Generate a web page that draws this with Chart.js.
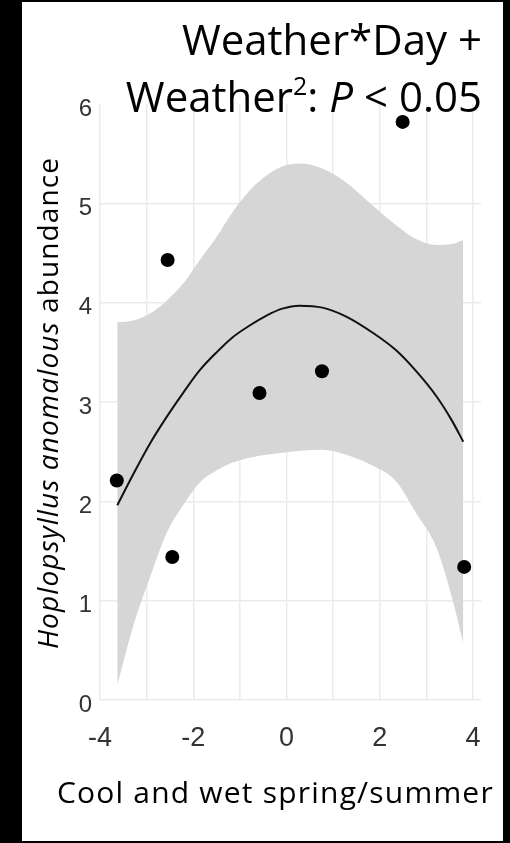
<!DOCTYPE html>
<html>
<head>
<meta charset="utf-8">
<script src="https://cdn.jsdelivr.net/npm/chart.js@4.4.1/dist/chart.umd.min.js"></script>
<style>
  body { margin: 0; background: #000; width: 510px; height: 843px; overflow: hidden; position: relative; }
  #panel { position: absolute; left: 22px; top: 2px; width: 481px; height: 839px; background: #fff; }
  #chart { position: absolute; left: 0; top: 0; }
  .txt { position: absolute; font-family: "Open Sans", sans-serif; color: #000; white-space: nowrap; line-height: 1; }
  #title1, #title2 { right: 21px; font-size: 42px; }
  #title1 { top: 16px; }
  #title2 { top: 73px; }
  #title2 sup { font-size: 25px; vertical-align: 17px; line-height: 0; }
  #ytitle { left: -275px; top: 387px; width: 600px; text-align: center; font-size: 28px; letter-spacing: 1.1px; transform: rotate(-90deg); }
  #xtitle { left: 35px; top: 775px; font-size: 30px; letter-spacing: 1.2px; }
</style>
</head>
<body>
<div id="panel">
  <canvas id="chart" width="481" height="839"></canvas>
  <div class="txt" id="title1">Weather*Day +</div>
  <div class="txt" id="title2">Weather<sup>2</sup>: <i>P</i> &lt; 0.05</div>
  <div class="txt" id="ytitle"><i>Hoplopsyllus anomalous</i> abundance</div>
  <div class="txt" id="xtitle">Cool and wet spring/summer</div>
</div>
<script>
// observed points
const pointX = [-3.64, -2.55, -2.45, -0.58, 0.76, 2.49, 3.81];
const pointY = [2.21, 4.43, 1.44, 3.09, 3.31, 5.82, 1.34];

// fitted curve and its confidence band, read along the same x positions
const fitX = [-3.63, -3.29, -2.93, -2.57, -2.22, -1.86, -1.50, -1.16, -0.79, -0.43,
              -0.09, 0.28, 0.77, 1.28, 1.84, 2.35, 2.78, 3.21, 3.55, 3.79];
const fitY = [1.96, 2.27, 2.58, 2.85, 3.09, 3.32, 3.50, 3.65, 3.77, 3.87,
              3.94, 3.97, 3.95, 3.86, 3.70, 3.52, 3.31, 3.06, 2.81, 2.60];
const upperY = [3.80, 3.82, 3.89, 4.02, 4.19, 4.43, 4.66, 4.91, 5.13, 5.28,
                5.37, 5.40, 5.35, 5.21, 4.98, 4.78, 4.64, 4.58, 4.59, 4.63];
const lowerY = [0.15, 0.74, 1.23, 1.68, 1.96, 2.19, 2.31, 2.39, 2.44, 2.47,
                2.49, 2.51, 2.52, 2.47, 2.36, 2.20, 1.88, 1.54, 1.03, 0.57];

const xTicks = [-4, -2, 0, 2, 4];

function pairs(xs, ys) {
    return xs.map((x, i) => ({ x: x, y: ys[i] }));
}

const ctx = document.getElementById('chart').getContext('2d');

new Chart(ctx, {
    type: 'line',
    data: {
        datasets: [
            {
                data: pairs(fitX, upperY),
                borderWidth: 0,
                pointRadius: 0,
                cubicInterpolationMode: 'monotone',
                backgroundColor: '#d6d6d6',
                fill: '+1',
                order: 3
            },
            {
                data: pairs(fitX, lowerY),
                borderWidth: 0,
                pointRadius: 0,
                cubicInterpolationMode: 'monotone',
                fill: false,
                order: 3
            },
            {
                data: pairs(fitX, fitY),
                borderColor: '#111',
                borderWidth: 2,
                pointRadius: 0,
                cubicInterpolationMode: 'monotone',
                fill: false,
                order: 1
            },
            {
                data: pairs(pointX, pointY),
                showLine: false,
                pointRadius: 7,
                pointBackgroundColor: '#000',
                pointBorderWidth: 0,
                fill: false,
                order: 0
            }
        ]
    },
    options: {
        responsive: false,
        devicePixelRatio: 1,
        animation: false,
        layout: { padding: { left: 0, right: 21, top: 102, bottom: 0 } },
        plugins: {
            legend: { display: false },
            tooltip: { enabled: false }
        },
        scales: {
            x: {
                type: 'linear',
                min: -4,
                max: 4.17,
                afterFit: scale => { scale.height = 141; },
                border: { display: false },
                grid: { color: '#ebebeb', lineWidth: 1.5, drawTicks: false },
                ticks: {
                    stepSize: 1,
                    includeBounds: false,
                    padding: 22,
                    color: '#333',
                    font: { family: '"Liberation Sans", Arial, sans-serif', size: 27 },
                    callback: v => xTicks.includes(v) ? String(v) : ''
                }
            },
            y: {
                min: 0,
                max: 6,
                afterFit: scale => { scale.width = 78; },
                border: { display: false },
                grid: {
                    color: c => (c.tick && c.tick.value === 6) ? 'rgba(0,0,0,0)' : '#ebebeb',
                    lineWidth: 1.5,
                    drawTicks: false
                },
                ticks: {
                    stepSize: 1,
                    padding: 8,
                    labelOffset: 5,
                    color: '#333',
                    font: { family: '"Liberation Sans", Arial, sans-serif', size: 24 }
                }
            }
        }
    }
});
</script>
</body>
</html>
